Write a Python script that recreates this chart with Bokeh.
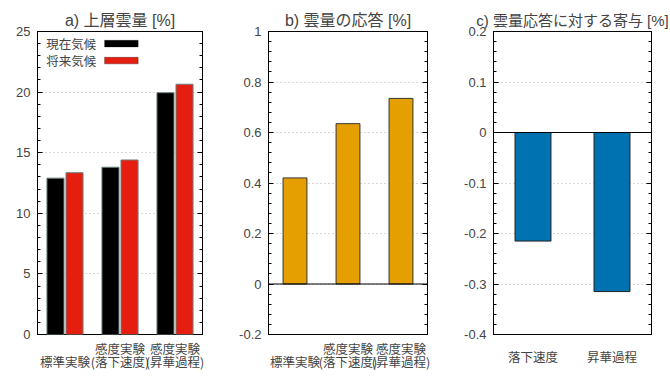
import numpy as np
from bokeh.plotting import figure
from bokeh.layouts import row
from bokeh.models import (LinearAxis, SingleIntervalTicker, FixedTicker, CustomJSTickFormatter,
                          Span, Label, BoxAnnotation, Range1d)
from bokeh.embed import file_html
from bokeh.resources import INLINE

# ---------------- data ----------------
titles = ["a) 上層雲量 [%]", "b) 雲量の応答 [%]", "c) 雲量応答に対する寄与 [%]"]
categories_ab = ["標準実験", "感度実験\n(落下速度)", "感度実験\n(昇華過程)"]
categories_c = ["落下速度", "昇華過程"]
legend_labels = ["現在気候", "将来気候"]
present_climate = [12.9, 13.8, 19.95]
future_climate = [13.35, 14.4, 20.65]
cloud_response = [0.42, 0.635, 0.735]
contribution = [-0.215, -0.315]

LAT = "Liberation Sans, Noto Sans CJK JP"
JP = "Noto Sans CJK JP"
fmt = CustomJSTickFormatter(code="return Number(tick.toFixed(3)).toString();")
blank = CustomJSTickFormatter(code="return '';")


def cat_axis(ticks, labels, standoff):
    ax = LinearAxis(ticker=FixedTicker(ticks=ticks, minor_ticks=[]))
    ax.major_label_overrides = dict(zip(ticks, labels))
    ax.major_tick_in = 0
    ax.major_tick_out = 0
    ax.minor_tick_in = 0
    ax.minor_tick_out = 0
    ax.axis_line_color = None
    ax.major_label_standoff = standoff
    ax.major_label_text_font = JP
    ax.major_label_text_font_size = "12.5px"
    return ax


def make_fig(fw, left, right, ylo, yhi, interval, cats, title, title_size="16px"):
    p = figure(frame_width=fw, frame_height=303, output_backend="svg", toolbar_location=None,
               x_range=Range1d(0.5, len(cats) + 0.5), y_range=Range1d(ylo, yhi),
               min_border_left=left, min_border_right=right, min_border_top=31,
               min_border_bottom=46, title=title, x_axis_location=None)
    p.title.text_font = LAT
    p.title.text_font_size = title_size
    p.title.text_font_style = "normal"
    p.title.align = "center"
    p.title.standoff = 6
    p.outline_line_color = "black"
    p.outline_line_width = 1
    p.background_fill_color = "white"
    p.border_fill_color = "white"
    p.xgrid.visible = False
    p.ygrid.grid_line_color = "#b0b0b0"
    p.ygrid.grid_line_dash = "1 3"
    p.ygrid.grid_line_width = 1.2

    ticker = SingleIntervalTicker(interval=interval, num_minor_ticks=5)
    ya = p.yaxis[0]
    ya.ticker = ticker
    ya.formatter = fmt
    ya.major_tick_in = 5
    ya.major_tick_out = 0
    ya.minor_tick_in = 3
    ya.minor_tick_out = 0
    ya.major_label_standoff = 7
    ya.major_label_text_font = LAT
    ya.major_label_text_font_size = "13px"
    ya.axis_line_color = "black"
    p.ygrid.ticker = ticker

    ra = LinearAxis(ticker=ticker, formatter=blank)
    ra.major_tick_in = 5
    ra.major_tick_out = 0
    ra.minor_tick_in = 3
    ra.minor_tick_out = 0
    ra.major_label_standoff = 0
    ra.axis_line_color = "black"
    p.add_layout(ra, "right")

    # category labels: first lines on one axis, second (or single) lines on another
    first_t, first_l, second_t, second_l = [], [], [], []
    for i, cat in enumerate(cats):
        lines = cat.split("\n")
        if len(lines) == 2:
            first_t.append(i + 1)
            first_l.append(lines[0])
            second_t.append(i + 1)
            second_l.append(lines[1])
        else:
            second_t.append(i + 1)
            second_l.append(lines[0])
    if first_t:
        p.add_layout(cat_axis(first_t, first_l, 4), "below")
        p.add_layout(cat_axis(second_t, second_l, -9), "below")
    else:
        p.add_layout(cat_axis(second_t, second_l, 12), "below")
    return p


# ---- panel a ----
pa = make_fig(165, 37, 23, 0, 25, 5, categories_ab, titles[0])
xa_pos = np.arange(1, len(categories_ab) + 1)
pa.vbar(x=xa_pos - 0.173, top=present_climate, width=0.31, bottom=0,
        fill_color="black", line_color="#6d7f7f", line_width=1)
pa.vbar(x=xa_pos + 0.173, top=future_climate, width=0.31, bottom=0,
        fill_color="#e51e10", line_color="#6d7f7f", line_width=1)
# legend (text left, swatch right, gnuplot style)
for lab, col, yc in zip(legend_labels, ["black", "#e51e10"], [24.0, 22.6]):
    pa.add_layout(Label(x=0.66, y=yc, text=lab, text_font=JP, text_font_size="12.5px",
                        text_baseline="middle", text_align="left"))
    pa.add_layout(BoxAnnotation(left=1.72, right=2.33, bottom=yc - 0.27, top=yc + 0.27,
                                fill_color=col, fill_alpha=1, line_color="black",
                                line_width=1))

# ---- panel b ----
pb = make_fig(159, 43, 23, -0.2, 1.0, 0.2, categories_ab, titles[1])
pb.vbar(x=np.arange(1, len(cloud_response) + 1), top=cloud_response, bottom=0, width=0.45,
        fill_color="#e69f00", line_color="#333333", line_width=1)
pb.add_layout(Span(location=0, dimension="width", line_color="black", line_width=1))

# ---- panel c ----
pc = make_fig(158, 43, 19, -0.4, 0.2, 0.1, categories_c, titles[2], title_size="15px")
pc.vbar(x=np.arange(1, len(contribution) + 1), top=0, bottom=contribution, width=0.455,
        fill_color="#0072b2", line_color="#222222", line_width=1)
pc.add_layout(Span(location=0, dimension="width", line_color="black", line_width=1))

layout = row(pa, pb, pc)
open("out.html", "w").write(file_html(layout, INLINE))
